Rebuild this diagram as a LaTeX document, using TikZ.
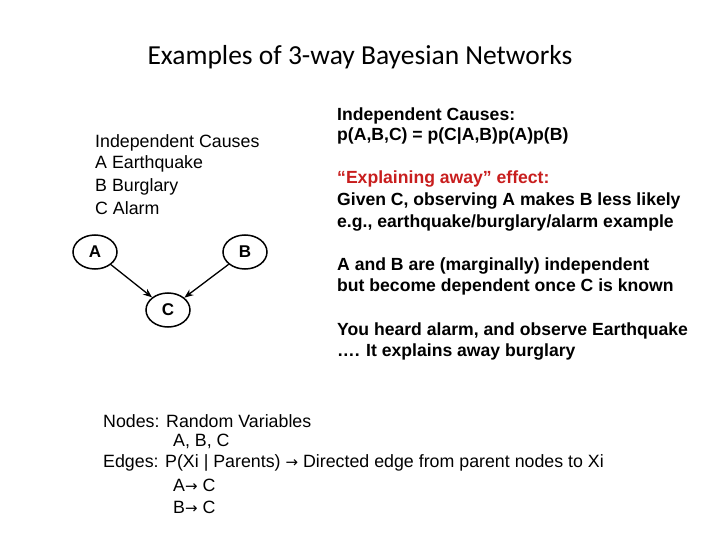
\documentclass[tikz,border=0pt]{standalone}
\usepackage{fontspec}
\setmainfont{Liberation Sans}
\newfontfamily\titlefont{Carlito}
\newfontfamily\arrfont{DejaVu Sans}
\usetikzlibrary{arrows.meta,shapes.geometric}
\definecolor{redtxt}{RGB}{200,30,30}
\newcommand{\rarr}{{\arrfont\fontsize{15}{15}\selectfont →}}
\begin{document}
\begin{tikzpicture}[x=1pt,y=-1pt,
  txt/.style={anchor=west,inner sep=0pt,font=\fontsize{17.8}{18}\selectfont},
  bold/.style={txt,font=\fontsize{17.6}{18}\selectfont\bfseries},
  rv/.style={draw,line width=1.5pt,ellipse,minimum width=44pt,minimum height=34pt,inner sep=0pt,font=\fontsize{17}{17}\selectfont\bfseries},
  edge/.style={line width=1.3pt,-{Stealth[length=9pt,width=7pt]}}]
\useasboundingbox (0,0) rectangle (720,540);
\node[font=\titlefont\fontsize{27.5}{28}\selectfont] (title) at (360,57) {Examples of 3-way Bayesian Networks};
\node[txt] (l1) at (95,143) {Independent Causes};
\node[txt] (l2) at (95,164) {A Earthquake};
\node[txt] (l3) at (95,187) {B Burglary};
\node[txt] (l4) at (95,208) {C Alarm};
\node[rv] (A) at (95,252) {A};
\node[rv] (B) at (245,252) {B};
\node[rv] (C) at (168,310) {C};
\draw[edge] (A) -- (C);
\draw[edge] (B) -- (C);
\node[bold] (r1) at (337,116) {Independent Causes:};
\node[bold] (r2) at (337,136) {p(A,B,C) = p(C|A,B)p(A)p(B)};
\node[bold,text=redtxt] (r3) at (337,179) {“Explaining away” effect:};
\node[bold] (r4) at (337,201) {Given C, observing A makes B less likely};
\node[bold] (r5) at (337,223) {e.g., earthquake/burglary/alarm example};
\node[bold] (r6) at (337,266) {A and B are (marginally) independent};
\node[bold] (r7) at (337,287) {but become dependent once C is known};
\node[bold] (r8) at (337,331) {You heard alarm, and observe Earthquake};
\node[bold] (r9) at (337,352) {…. It explains away burglary};
\node[txt] (b1) at (103,421) {Nodes: Random Variables};
\node[txt] (b2) at (173,441) {A, B, C};
\node[txt] (b3) at (103,463) {Edges: P(Xi | Parents) \rarr\ Directed edge from parent nodes to Xi};
\node[txt] (b4) at (173,485) {A\rarr\ C};
\node[txt] (b5) at (173,507) {B\rarr\ C};
\end{tikzpicture}
\end{document}
